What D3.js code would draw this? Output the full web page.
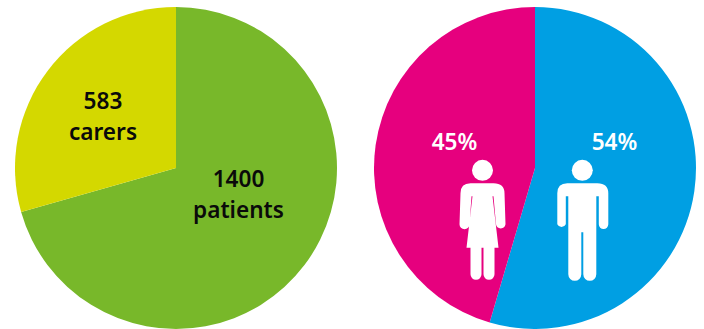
<!DOCTYPE html>
<html><head><meta charset="utf-8">
<script src="https://cdn.jsdelivr.net/npm/d3@7/dist/d3.min.js"></script>
<style>html,body{margin:0;padding:0;background:#fff;overflow:hidden}svg{display:block}text{font-family:"Noto Sans",sans-serif;text-anchor:middle}</style>
</head><body><svg id="c" width="704" height="329"></svg>
<script>
const groupCats=["patients","carers"];
const groupVals=[1400,583];
const groupColors=["#78b82a","#d4d800"];
const genderCats=["men","women"];
const genderVals=[54,45];
const genderColors=["#009fe3","#e6007e"];
const svg=d3.select("#c");
const pie=d3.pie().sort(null).startAngle(0).endAngle(2*Math.PI);
const arc=d3.arc().innerRadius(0).outerRadius(161);
function drawPie(cx,vals,cols){
  const g=svg.append("g").attr("transform",`translate(${cx},168)`);
  g.selectAll("path").data(pie(vals)).join("path").attr("d",arc).attr("fill",(d,i)=>cols[i]);
}
drawPie(176,groupVals,groupColors);
drawPie(535,genderVals,genderColors);
function label(x,y,t,col,w,s){svg.append("text").attr("x",x).attr("y",y).attr("fill",col).attr("font-size",s).attr("font-weight",w).text(t);}
label(103,109,String(groupVals[1]),"#0a0a0a",600,22.6);
label(103,140,groupCats[1],"#0a0a0a",600,22.6);
label(238.5,187,String(groupVals[0]),"#0a0a0a",600,22.6);
label(238.5,218,groupCats[0],"#0a0a0a",600,22.6);
label(454.5,150,genderVals[1]+"%","#fff",600,22.6);
label(614.5,150,genderVals[0]+"%","#fff",600,22.6);
// pictograms, local origin at the centre of the head
const man="M-25,23 Q-25,13 -15,13 L15,13 Q26,13 26,23 L26,54 A4.7,4.7 0 0 1 16.5,54 L16.5,26 L14,26 L14,104 A6.5,6.5 0 0 1 1,104 L1,62 L-1,62 L-1,104 A6.5,6.5 0 0 1 -14,104 L-14,26 L-16.5,26 L-16.5,54 A4.7,4.7 0 0 1 -25,54 Z";
const woman="M-22,23 Q-22,13 -12,13 L11,13 Q22,13 22,23 L23,54 A4.8,4.8 0 0 1 13.5,54 L11,26 L10,26 L16,77.5 L12,77.5 L12,104 A5.5,5.5 0 0 1 1,104 L1,77.5 L-1,77.5 L-1,104 A5.5,5.5 0 0 1 -12,104 L-12,77.5 L-16,77.5 L-10,26 L-11,26 L-13,54 A4.8,4.8 0 0 1 -23,54 Z";
[[482.5,woman],[582.3,man]].forEach(([x,d])=>{
  const g=svg.append("g").attr("transform",`translate(${x},170.3)`).attr("fill","#fff");
  g.append("circle").attr("r",10.5);
  g.append("path").attr("d",d);
});
</script></body></html>
